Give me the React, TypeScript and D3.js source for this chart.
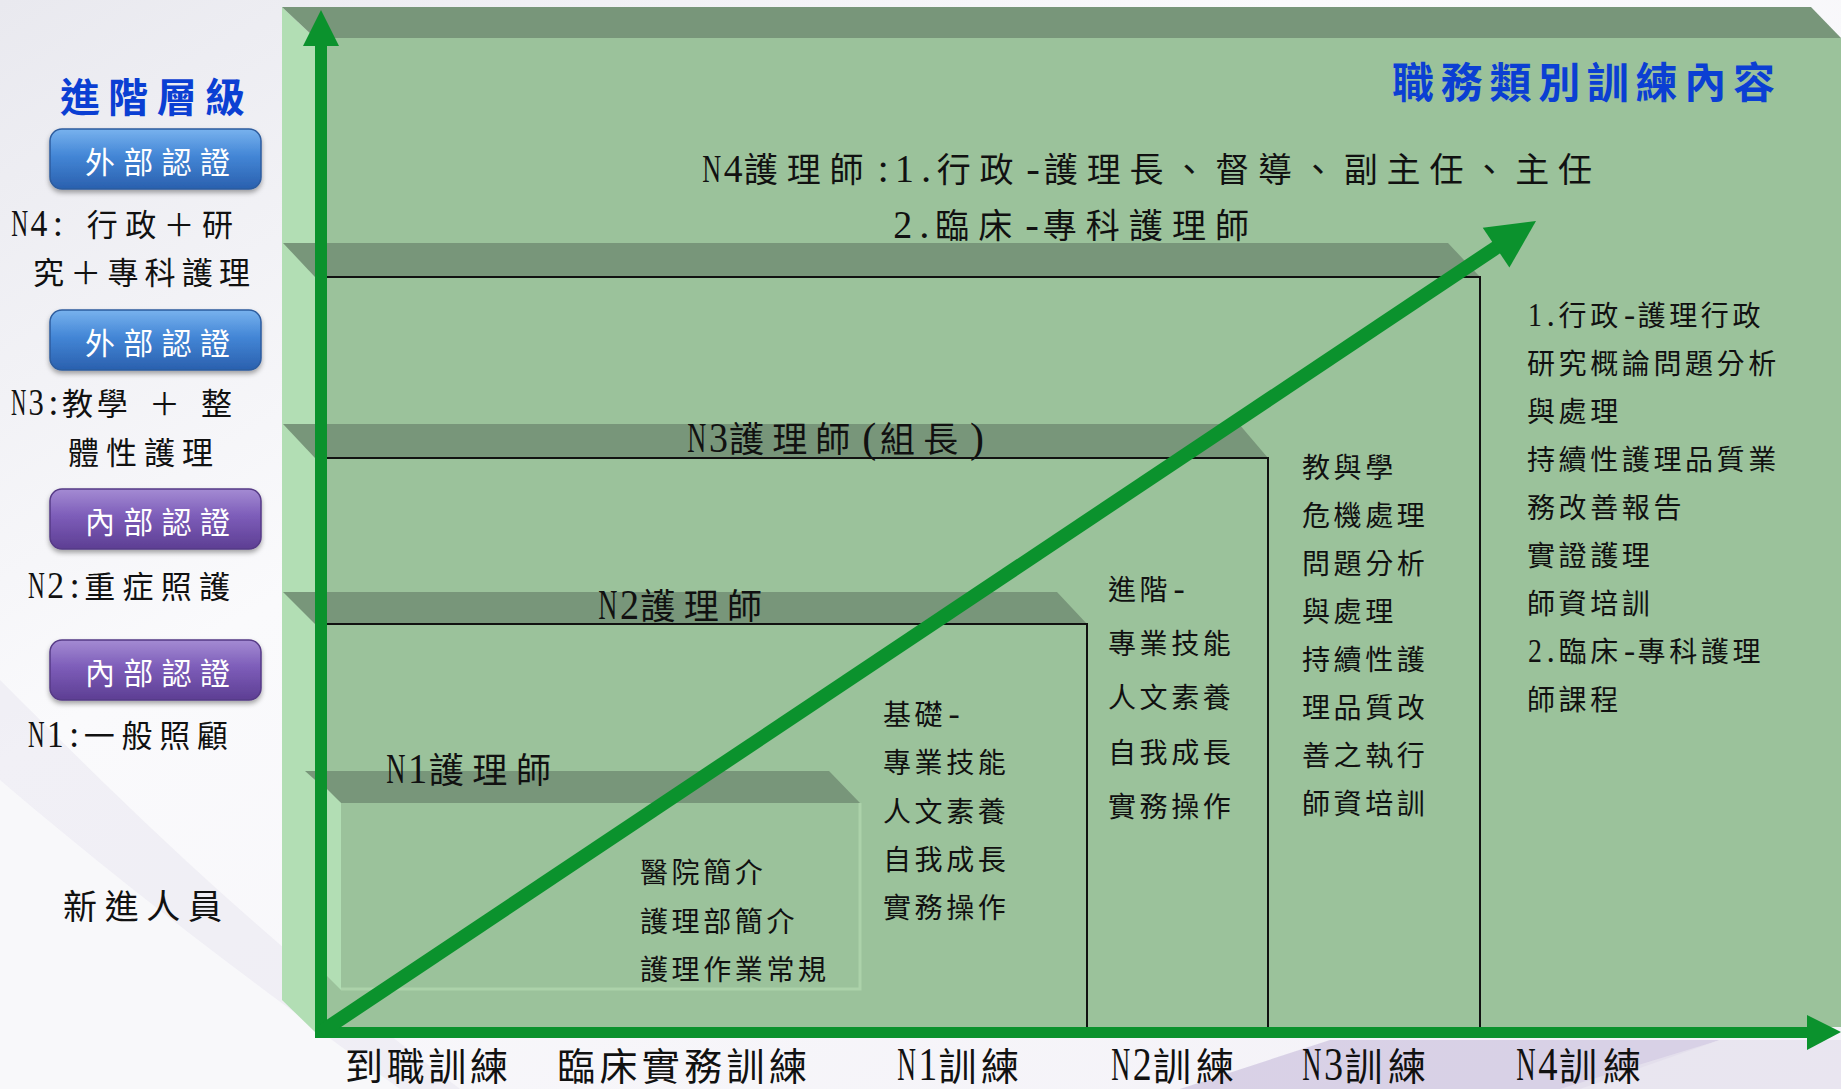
import React from 'react';
import * as d3 from 'd3';

// ---- content ----
const sideTitle = '進階層級';
const mainTitle = '職務類別訓練內容';
const badges = ['外部認證', '外部認證', '內部認證', '內部認證'];
const badgeKinds = ['external', 'external', 'internal', 'internal'];
const levelNotes = [
    ['N4: 行政＋研', '究＋專科護理'],
    ['N3:教學 ＋ 整', '體性護理'],
    ['N2:重症照護'],
    ['N1:一般照顧'],
];
const newcomer = '新進人員';

const n4Heading = ['N4護理師:1.行政-護理長、督導、副主任、主任', '2.臨床-專科護理師'];
const ladderTitles = ['N3護理師(組長)', 'N2護理師', 'N1護理師'];
const stageLabels = ['到職訓練', '臨床實務訓練', 'N1訓練', 'N2訓練', 'N3訓練', 'N4訓練'];

const orientationItems = ['醫院簡介', '護理部簡介', '護理作業常規'];
const n1Items = ['基礎-', '專業技能', '人文素養', '自我成長', '實務操作'];
const n2Items = ['進階-', '專業技能', '人文素養', '自我成長', '實務操作'];
const n3Items = ['教與學', '危機處理', '問題分析', '與處理', '持續性護', '理品質改', '善之執行', '師資培訓'];
const n4Items = ['1.行政-護理行政', '研究概論問題分析', '與處理', '持續性護理品質業', '務改善報告', '實證護理', '師資培訓', '2.臨床-專科護理', '師課程'];

// ---- look ----
const W = 1841;
const H = 1089;
const FONT = "'Liberation Serif', 'Noto Sans CJK TC', serif";
const FACE = '#9bc29b';
const BAND = '#78967a';
const SIDE = '#b2deb4';
const ARROW = '#0b922d';
const BLUE_TEXT = '#0b3fd3';

// Liberation Serif advance widths (em) for the latin characters that occur
const latinW: Record<string, number> = {
    N: 0.722, ':': 0.278, '.': 0.25, '-': 0.333, '(': 0.333, ')': 0.333, ' ': 0.25,
};
const isLatin = (c: string) => c.charCodeAt(0) < 128;
const LATIN_SCALE = 1.2; // latin glyphs drawn taller, then condensed into half cells

interface SpacedProps {
    x: number;
    y: number;
    text: string;
    size: number;
    width?: number; // ink width to fill
    cell?: number; // or a fixed full-width cell
    fill?: string;
    weight?: number;
    family?: string;
}

// lays text out on a monospace grid: CJK = one cell, latin = half a cell (condensed runs)
const Spaced: React.FC<SpacedProps> = ({ x, y, text, size, width, cell, fill = '#111', weight, family }) => {
    const chars = Array.from(text);
    const units = chars.map(c => (isLatin(c) ? 0.5 : 1));
    const lSize = size * LATIN_SCALE;
    let c = cell ?? size;
    if (width !== undefined) {
        const last = chars[chars.length - 1];
        const lastInk = isLatin(last) ? size * 0.45 : size;
        const before = d3.sum(units) - units[units.length - 1];
        c = (width - lastInk) / before;
    }

    // single CJK chars, or single latin chars on half cells
    let acc = x;
    const glyphs = chars.map((ch, i) => {
        const start = acc;
        acc += units[i] * c;
        if (ch === ' ') return null;
        if (!isLatin(ch)) return <text key={i} x={start} y={y}>{ch}</text>;
        const natural = (latinW[ch] ?? 0.5) * lSize;
        const room = (c / 2) * 0.88;
        const sx = Math.min(1, room / natural);
        const gx = start + (c / 2 - natural * sx) / 2;
        return (
            <text key={i} transform={`translate(${gx.toFixed(1)},${y}) scale(${sx.toFixed(3)},1)`} fontSize={lSize}>
                {ch}
            </text>
        );
    });

    return (
        <g fontSize={size} fill={fill} fontWeight={weight} fontFamily={family}>
            {glyphs}
        </g>
    );
};

const App: React.FC = () => {
    // panel frame
    const outerL = 282, faceL = 315, top = 7, faceTop = 38, bottom = 1027;
    const axisX = 321, axisY = 1032;

    // ladder steps: N4, N3, N2 (band top / bottom, right edge top / bottom)
    const steps = [
        { y0: 243, y1: 277, r0: 1448, r1: 1480 },
        { y0: 424, y1: 458, r0: 1239, r1: 1268 },
        { y0: 592, y1: 624, r0: 1057, r1: 1087 },
    ];
    const poly = d3.line();

    // diagonal growth arrow
    const tail: [number, number] = [axisX, axisY];
    const tip: [number, number] = [1536, 221];
    const len = Math.hypot(tip[0] - tail[0], tip[1] - tail[1]);
    const u = [(tip[0] - tail[0]) / len, (tip[1] - tail[1]) / len];
    const nrm = [-u[1], u[0]];
    const headLen = 48, headHalf = 24;
    const base = [tip[0] - u[0] * headLen, tip[1] - u[1] * headLen];

    // list rows
    const rows = (first: number, step: number) =>
        d3.scaleLinear().domain([0, 1]).range([first, first + step]);
    const columns = [
        { items: orientationItems, x: 640, y: rows(883, 48.5) },
        { items: n1Items, x: 883, y: rows(725, 48.3) },
        { items: n2Items, x: 1108, y: rows(600, 54.2) },
        { items: n3Items, x: 1302, y: rows(478, 48) },
        { items: n4Items, x: 1527, y: rows(326, 48) },
    ];

    const stageX = [345, 557, 896, 1110, 1301, 1515];
    const stageW = [163, 250, 123, 124, 125, 126];

    const badgeY = [129, 310, 489, 640];
    const noteLines = [
        [{ x: 10, y: 236, w: 223 }, { x: 33, y: 284, w: 217 }],
        [{ x: 10, y: 415, w: 222 }, { x: 68, y: 464, w: 145 }],
        [{ x: 27, y: 598, w: 203 }],
        [{ x: 27, y: 747, w: 201 }],
    ];
    const titleGeom = [
        { x: 686, y: 452, w: 296 },
        { x: 597, y: 619, w: 165 },
        { x: 385, y: 783, w: 166 },
    ];
    const boldCjk = "'Noto Sans CJK TC', sans-serif";

    return (
        <div style={{ position: 'fixed', left: 0, top: 0 }}>
            <svg width={W} height={H} fontFamily={FONT}>
                <defs>
                    <linearGradient id="bg" x1="0" y1="0" x2="1" y2="1">
                        <stop offset="0" stopColor="#e9e9ef" />
                        <stop offset="0.35" stopColor="#fafafc" />
                        <stop offset="1" stopColor="#f3f1f7" />
                    </linearGradient>
                    <linearGradient id="blueBtn" x1="0" y1="0" x2="0" y2="1">
                        <stop offset="0" stopColor="#78b2ee" />
                        <stop offset="0.45" stopColor="#4386d6" />
                        <stop offset="1" stopColor="#2a60ae" />
                    </linearGradient>
                    <linearGradient id="purpleBtn" x1="0" y1="0" x2="0" y2="1">
                        <stop offset="0" stopColor="#a48bd3" />
                        <stop offset="0.45" stopColor="#7d5db9" />
                        <stop offset="1" stopColor="#5d3e93" />
                    </linearGradient>
                    <filter id="shadow" x="-10%" y="-20%" width="120%" height="150%">
                        <feDropShadow dx="0" dy="3" stdDeviation="2.5" floodOpacity="0.35" />
                    </filter>
                </defs>

                {/* background */}
                <rect width={W} height={H} fill="url(#bg)" />
                <path d="M0,680 C120,800 260,940 460,1089 L0,1089 Z" fill="#e8e6ef" opacity={0.5} />
                <path d="M0,780 C140,900 290,1010 400,1089 L0,1089 Z" fill="#f8f8fb" opacity={0.9} />
                <path d="M1180,1089 L1330,1040 L1720,1040 L1580,1089 Z" fill="#cfc6e0" opacity={0.75} />
                <path d="M1560,1089 L1720,1040 L1841,1040 L1841,1089 Z" fill="#e6e2ee" opacity={0.8} />

                {/* panel */}
                <path d={poly([[outerL, top], [faceL, faceTop], [faceL, axisY], [outerL, 1000]]) + 'Z'} fill={SIDE} />
                <rect x={faceL} y={faceTop} width={W - faceL} height={bottom - faceTop} fill={FACE} />
                <path d={poly([[outerL, top], [1811, top], [W, faceTop], [faceL, faceTop]]) + 'Z'} fill={BAND} />

                {/* ladder steps */}
                {steps.map((s, i) => (
                    <g key={i}>
                        <path d={poly([[outerL + 1, s.y0], [s.r0, s.y0], [s.r1, s.y1], [faceL, s.y1]]) + 'Z'} fill={BAND} />
                        <path d={`M${axisX + 6},${s.y1} H${s.r1} V${axisY}`} fill="none" stroke="#111" strokeWidth={2} />
                    </g>
                ))}

                {/* N1 box */}
                <path d={poly([[305, 771], [829, 771], [860, 803], [341, 803]]) + 'Z'} fill={BAND} />
                <path d={poly([[327, 789], [341, 803], [341, 990], [327, 976]]) + 'Z'} fill={SIDE} />
                <path d="M860,803 V989 H341" fill="none" stroke="#acd2aa" strokeWidth={3} />

                {/* axes */}
                <line x1={axisX} y1={axisY} x2={axisX} y2={44} stroke={ARROW} strokeWidth={12} />
                <path d={poly([[axisX, 10], [axisX - 18, 46], [axisX + 18, 46]]) + 'Z'} fill={ARROW} />
                <line x1={faceL} y1={axisY + 0.5} x2={1809} y2={axisY + 0.5} stroke={ARROW} strokeWidth={11} />
                <path d={poly([[W, axisY], [1807, 1015], [1807, 1050]]) + 'Z'} fill={ARROW} />

                {/* growth arrow */}
                <path d={poly([tail, [base[0] + u[0] * 2, base[1] + u[1] * 2]]) ?? ''} stroke={ARROW} strokeWidth={14} fill="none" />
                <path
                    d={poly([
                        tip,
                        [base[0] - nrm[0] * headHalf, base[1] - nrm[1] * headHalf],
                        [base[0] + nrm[0] * headHalf, base[1] + nrm[1] * headHalf],
                    ]) + 'Z'}
                    fill={ARROW}
                />

                {/* left column */}
                <Spaced x={60} y={112} text={sideTitle} size={40} width={185} weight={700} fill={BLUE_TEXT} family={boldCjk} />
                {badges.map((b, i) => (
                    <g key={i}>
                        <rect x={50} y={badgeY[i]} width={211} height={60} rx={12}
                            fill={badgeKinds[i] === 'external' ? 'url(#blueBtn)' : 'url(#purpleBtn)'}
                            stroke={badgeKinds[i] === 'external' ? '#2d5c9e' : '#563a86'} strokeWidth={1.5}
                            filter="url(#shadow)" />
                        <Spaced x={85} y={badgeY[i] + 44} text={b} size={30} width={145} fill="#fff" />
                    </g>
                ))}
                {levelNotes.map((lines, i) =>
                    lines.map((t, j) => (
                        <Spaced key={`${i}-${j}`} x={noteLines[i][j].x} y={noteLines[i][j].y} text={t} size={31} width={noteLines[i][j].w} />
                    ))
                )}
                <Spaced x={63} y={919} text={newcomer} size={34} width={159} />

                {/* main panel titles */}
                <Spaced x={1392} y={98} text={mainTitle} size={42} width={383} weight={700} fill={BLUE_TEXT} family={boldCjk} />
                <Spaced x={701} y={182} text={n4Heading[0]} size={34} width={891} />
                <Spaced x={892} y={238} text={n4Heading[1]} size={34} width={357} />
                {ladderTitles.map((t, i) => (
                    <Spaced key={t} x={titleGeom[i].x} y={titleGeom[i].y} text={t} size={35} width={titleGeom[i].w} />
                ))}

                {/* training contents */}
                {columns.map((c, ci) => (
                    <g key={ci}>
                        {c.items.map((t, i) => (
                            <Spaced key={i} x={c.x} y={c.y(i)} text={t} size={28} cell={31.6} />
                        ))}
                    </g>
                ))}

                {/* stage labels */}
                {stageLabels.map((t, i) => (
                    <Spaced key={t} x={stageX[i]} y={1080} text={t} size={38} width={stageW[i]} />
                ))}
            </svg>
        </div>
    );
};

export default App;
